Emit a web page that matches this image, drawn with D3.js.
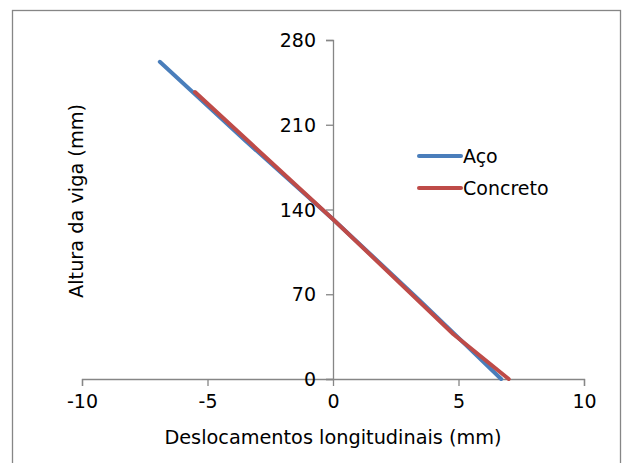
<!DOCTYPE html>
<html>
<head>
<meta charset="utf-8">
<script src="https://cdn.jsdelivr.net/npm/d3@7"></script>
<style>
  body { margin: 0; background: #fff; }
  text { font-family: "DejaVu Sans", Verdana, sans-serif; fill: #000; }
</style>
</head>
<body>
<div id="viz"></div>
<script>
// series: [deslocamento (mm), altura (mm)]
var acoX = [-6.9, -3.5, 0, 3.4, 6.7];
var acoY = [262, 197, 132, 66, 0];
var concretoX = [-5.5, 0, 4.8, 7.0];
var concretoY = [237, 132, 37, 0];

var xTicks = [-10, -5, 0, 5, 10];
var yTicks = [0, 70, 140, 210, 280];
var seriesNames = ['Aço', 'Concreto'];
var seriesColors = ['#4A7EBB', '#BE4B48'];

var width = 624,
    height = 463,
    fontSize = '19px';

var svg = d3.select('#viz').append('svg')
    .attr('width', width)
    .attr('height', height);

// chart border
svg.append('rect')
    .attr('x', 12.5).attr('y', 10.5)
    .attr('width', 608).attr('height', 460)
    .attr('fill', 'white')
    .attr('stroke', '#868686')
    .attr('stroke-width', 1.3);

var xScale = d3.scaleLinear()
    .domain([-10, 10])
    .range([82, 584]);

var yScale = d3.scaleLinear()
    .domain([0, 280])
    .range([379, 40]);

// plain hyphen for negatives, like the original
var fmt = function(d){ return String(d); };

// x axis, crossing at y = 0
var xAxis = svg.append('g')
    .attr('transform', 'translate(0,' + yScale(0) + ')')
    .call(d3.axisBottom(xScale).tickValues(xTicks).tickSize(7).tickPadding(7).tickFormat(fmt));

// y axis, crossing at x = 0
var yAxis = svg.append('g')
    .attr('transform', 'translate(' + xScale(0) + ',0)')
    .call(d3.axisLeft(yScale).tickValues(yTicks).tickSize(7).tickPadding(10).tickFormat(fmt));

[xAxis, yAxis].forEach(function(ax){
  ax.select('.domain').attr('stroke', '#868686').attr('stroke-width', 1.3);
  ax.selectAll('.tick line').attr('stroke', '#868686').attr('stroke-width', 1.3);
  ax.selectAll('.tick text')
    .style('font-family', '"DejaVu Sans", Verdana, sans-serif')
    .style('font-size', fontSize)
    .attr('fill', '#000');
});
yAxis.selectAll('.tick text').attr('dy', '0.35em');
xAxis.selectAll('.tick text').attr('dy', '0.78em');

var line = d3.line()
    .x(function(d){ return xScale(d[0]); })
    .y(function(d){ return yScale(d[1]); });

var series = [
  d3.zip(acoX, acoY),
  d3.zip(concretoX, concretoY)
];

svg.selectAll('path.serie')
  .data(series)
  .enter().append('path')
    .attr('class', 'serie')
    .attr('d', line)
    .attr('fill', 'none')
    .attr('stroke', function(d, i){ return seriesColors[i]; })
    .attr('stroke-width', 4)
    .attr('stroke-linecap', 'round')
    .attr('stroke-linejoin', 'round');

// axis titles
svg.append('text')
    .attr('x', 333)
    .attr('y', 444)
    .attr('text-anchor', 'middle')
    .style('font-size', '19.3px')
    .text('Deslocamentos longitudinais (mm)');

svg.append('text')
    .attr('transform', 'translate(83,201) rotate(-90)')
    .attr('text-anchor', 'middle')
    .style('font-size', '19.3px')
    .text('Altura da viga (mm)');

// legend
var legend = svg.selectAll('g.legend')
  .data(seriesNames)
  .enter().append('g')
    .attr('class', 'legend')
    .attr('transform', function(d, i){ return 'translate(419,' + (156 + i * 32) + ')'; });

legend.append('line')
    .attr('x1', 0).attr('x2', 42)
    .attr('stroke', function(d, i){ return seriesColors[i]; })
    .attr('stroke-width', 4)
    .attr('stroke-linecap', 'round');

legend.append('text')
    .attr('x', 44)
    .attr('dy', '0.35em')
    .style('font-size', fontSize)
    .text(function(d){ return d; });
</script>
</body>
</html>
